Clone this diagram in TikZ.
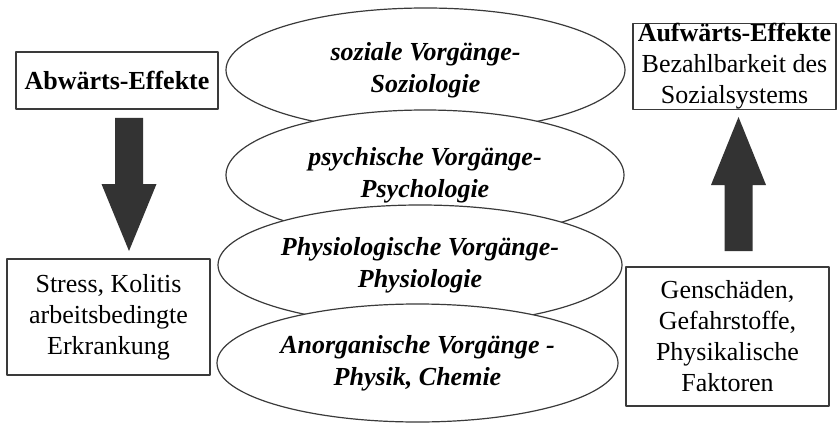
\documentclass[tikz,border=0pt]{standalone}
\usepackage{fontspec}
\setmainfont{Liberation Serif}
\usetikzlibrary{shapes.geometric}
\definecolor{arrowgray}{HTML}{333333}
\definecolor{linegray}{HTML}{3A3A3A}
% thick block arrow: x of the axis, y of the tail, y of the head base, y of the tip
\newcommand{\fatarrow}[4]{%
	\fill[arrowgray] (#1-14,#2) -- (#1+14,#2) -- (#1+14,#3) -- (#1+27.5,#3) -- (#1,#4) -- (#1-27.5,#3) -- (#1-14,#3) -- cycle;}
\begin{document}
\begin{tikzpicture}[x=1pt, y=-1pt, line join=round, font=\fontsize{26}{31}\selectfont,
	box/.style={draw=linegray, line width=1.3pt, align=center, inner sep=0pt, minimum width=203pt},
	level/.style={ellipse, draw=linegray, line width=1.2pt, fill=white, align=center, inner sep=0pt,
		font=\fontsize{26}{32}\selectfont\bfseries\itshape}]
			\useasboundingbox (0,0) rectangle (837,425);
			% stacked levels, each one covers the lower rim of the one above
			\node[level, minimum width=399pt, minimum height=124pt] (soz) at (425.5,70) {soziale Vorgänge-\\Soziologie};
			\node[level, minimum width=398pt, minimum height=130pt] (psy) at (425,175) {psychische Vorgänge-\\Psychologie};
			\node[level, minimum width=404pt, minimum height=120pt] (phy) at (420,265) {Physiologische Vorgänge-\\Physiologie};
			\node[level, minimum width=401pt, minimum height=118pt] (anorg) at (417.5,363) {Anorganische Vorgänge -\\Physik, Chemie};
			% left side
			\node[box, minimum width=202pt, minimum height=57pt] (abw) at (117,80.5) {\textbf{Abwärts-Effekte}};
			\node[box, minimum height=116pt] (stress) at (108.5,317) {Stress, Kolitis\\arbeitsbedingte\\Erkrankung};
			\fatarrow{129}{118}{184}{251}
			% right side
			\node[box, minimum height=85pt] (auf) at (734.5,66.5) {\textbf{Aufwärts-Effekte}\\Bezahlbarkeit des\\Sozialsystems};
			\node[box, minimum height=139pt] (gen) at (727.5,336.5) {Genschäden,\\Gefahrstoffe,\\Physikalische\\Faktoren};
			\fatarrow{738.5}{251}{185}{117}
\end{tikzpicture}
\end{document}
